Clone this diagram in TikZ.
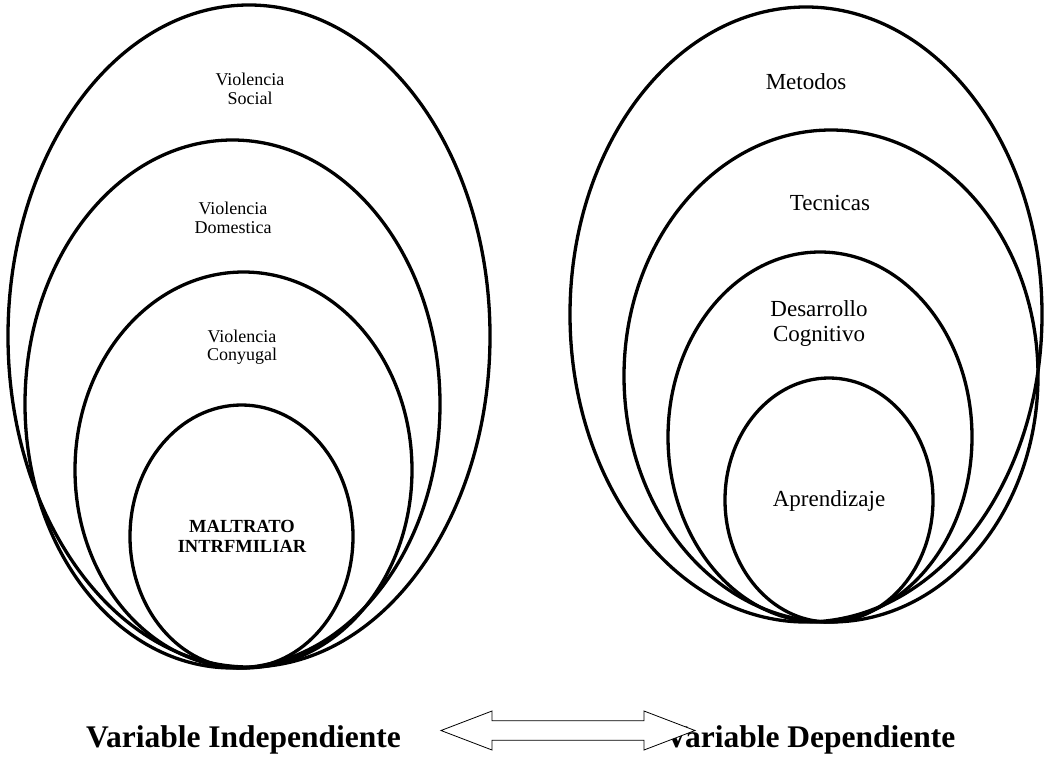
\documentclass[tikz,border=0pt]{standalone}
\usepackage{fontspec}
\setmainfont{Liberation Serif}

\tikzset{
  ring/.style={line width=3.3pt},
  smalltxt/.style={align=center, inner sep=0pt, font=\fontsize{18}{18.5}\selectfont},
  bigtxt/.style={align=center, inner sep=0pt, font=\fontsize{23}{25}\selectfont},
  vartxt/.style={inner sep=0pt, anchor=base west, font=\bfseries\fontsize{31.5}{31.5}\selectfont},
  arrowbox/.style={draw, fill=white, line width=0.8pt, line join=miter},
}

\begin{document}
\begin{tikzpicture}[x=1pt,y=-1pt]
	\useasboundingbox (0,0) rectangle (1048,757);

	% variable independiente
	\draw [ring] (249,336) ellipse (241pt and 331pt);
	\draw [ring] (232.5,404) ellipse (207.5pt and 264pt);
	\draw [ring] (243.5,470) ellipse (168.5pt and 198pt);
	\draw [ring] (241.5,536.5) ellipse (111.5pt and 131.5pt);
	\node [smalltxt] (social) at (250,89) {Violencia\\Social};
	\node [smalltxt] (domestica) at (233,218) {Violencia\\Domestica};
	\node [smalltxt] (conyugal) at (242,347) {Violencia\\Conyugal};
	\node [smalltxt, font=\bfseries\fontsize{18.5}{20}\selectfont] (maltrato) at (242,536) {MALTRATO\\INTRFMILIAR};

	% variable dependiente
	\draw [ring] (806,314.5) ellipse (236pt and 307.5pt);
	\draw [ring] (831,376) ellipse (207pt and 246pt);
	\draw [ring] (820,437) ellipse (152pt and 185pt);
	\draw [ring] (829,500) ellipse (104pt and 122pt);
	\node [bigtxt] (metodos) at (806,82) {Metodos};
	\node [bigtxt] (tecnicas) at (830,203) {Tecnicas};
	\node [bigtxt] (desarrollo) at (819,323) {Desarrollo\\Cognitivo};
	\node [bigtxt] (aprendizaje) at (829,501) {Aprendizaje};

	% labels and arrow
	\node [vartxt] (indep) at (86,747) {Variable Independiente};
	\node [vartxt] (dep) at (665,747) {Variable Dependiente};
	\coordinate (arr) at (568,730.5);
	\draw [arrowbox, shift={(arr)}] (-127,0) -- (-76,-19.5) -- (-76,-9.7) -- (76,-9.7) -- (76,-19.5)
		-- (127,0) -- (76,19.5) -- (76,9.7) -- (-76,9.7) -- (-76,19.5) -- cycle;
\end{tikzpicture}
\end{document}
